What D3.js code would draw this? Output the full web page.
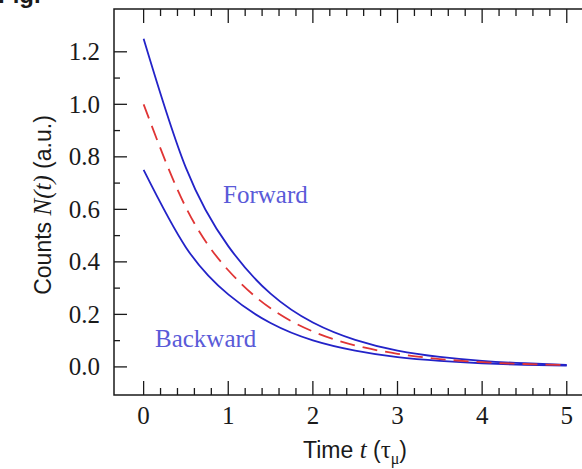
<!DOCTYPE html>
<html>
<head>
<meta charset="utf-8">
<script src="https://cdn.jsdelivr.net/npm/d3@7"></script>
<style>
  body { margin: 0; background: #fff; }
  svg { display: block; }
</style>
</head>
<body>
<svg id="chart" width="582" height="469"></svg>
<script>
// values
const times = [0, 0.5, 1, 1.5, 2, 2.5, 3, 3.5, 4, 4.5, 5];
const forward = [1.25, 0.758, 0.46, 0.279, 0.169, 0.103, 0.062, 0.038, 0.023, 0.014, 0.008];
const average = [1.0, 0.607, 0.368, 0.223, 0.135, 0.082, 0.05, 0.03, 0.018, 0.011, 0.007];
const backward = [0.75, 0.455, 0.276, 0.167, 0.101, 0.062, 0.037, 0.023, 0.014, 0.008, 0.005];
const xTicks = [0, 1, 2, 3, 4, 5];
const yTicks = [0, 0.2, 0.4, 0.6, 0.8, 1.0, 1.2];

const svg = d3.select("#chart");
const W = 582;
const frameLeft = 114, frameTop = 9, frameBottom = 395;

const x = d3.scaleLinear().domain([-0.35, 5.18]).range([frameLeft, W]);
const y = d3.scaleLinear().domain([-0.107, 1.363]).range([frameBottom, frameTop]);

const ink = "#1a1a1a";

// "Fig." cut off at the top edge, as in the source
svg.append("text")
    .attr("x", -2).attr("y", 3)
    .attr("font-family", "Liberation Sans, Arial, sans-serif")
    .attr("font-weight", "bold")
    .attr("font-size", 24)
    .attr("fill", ink)
    .text("Fig.");

// frame (right side runs off the picture)
svg.append("path")
    .attr("d", `M${W},${frameTop}H${frameLeft}V${frameBottom}H${W}`)
    .attr("fill", "none")
    .attr("stroke", ink)
    .attr("stroke-width", 1.5);

// minor + major ticks along x (bottom and top, pointing inward)
const xMinor = d3.range(0, 5.001, 0.2).map(v => +v.toFixed(1));
const tg = svg.append("g").attr("stroke", ink).attr("stroke-width", 1.3);
xMinor.forEach(v => {
    let major = Math.abs(v - Math.round(v)) < 1e-6;
    let len = major ? 14 : 7;
    tg.append("line").attr("x1", x(v)).attr("x2", x(v)).attr("y1", frameBottom).attr("y2", frameBottom - len);
    tg.append("line").attr("x1", x(v)).attr("x2", x(v)).attr("y1", frameTop).attr("y2", frameTop + len);
});
const yMinor = d3.range(0, 1.2001, 0.1).map(v => +v.toFixed(1));
yMinor.forEach(v => {
    let major = Math.abs(v * 5 - Math.round(v * 5)) < 1e-6;
    let len = major ? 13 : 6;
    tg.append("line").attr("x1", frameLeft).attr("x2", frameLeft + len).attr("y1", y(v)).attr("y2", y(v));
});

// tick labels
const serif = "Liberation Serif, Times New Roman, serif";
svg.append("g").selectAll("text")
    .data(xTicks)
    .join("text")
    .attr("x", d => x(d))
    .attr("y", 424)
    .attr("text-anchor", "middle")
    .attr("font-family", serif)
    .attr("font-size", 25)
    .attr("fill", ink)
    .text(d => d);

svg.append("g").selectAll("text")
    .data(yTicks)
    .join("text")
    .attr("x", 100)
    .attr("y", d => y(d))
    .attr("dy", "0.34em")
    .attr("text-anchor", "end")
    .attr("font-family", serif)
    .attr("font-size", 25)
    .attr("fill", ink)
    .text(d => d.toFixed(1));

// curves
const pts = vals => times.map((t, i) => [t, vals[i]]);
const line = d3.line()
    .x(d => x(d[0]))
    .y(d => y(d[1]))
    .curve(d3.curveNatural);

svg.append("path").datum(pts(forward))
    .attr("d", line).attr("fill", "none")
    .attr("stroke", "#2323c8").attr("stroke-width", 1.8);
svg.append("path").datum(pts(backward))
    .attr("d", line).attr("fill", "none")
    .attr("stroke", "#2323c8").attr("stroke-width", 1.8);
svg.append("path").datum(pts(average))
    .attr("d", line).attr("fill", "none")
    .attr("stroke", "#e03535").attr("stroke-width", 1.8)
    .attr("stroke-dasharray", "15,8");

// curve labels
svg.append("text")
    .attr("x", 223).attr("y", 203)
    .attr("font-family", serif).attr("font-size", 25)
    .attr("fill", "#5a5ad8")
    .text("Forward");
svg.append("text")
    .attr("x", 155).attr("y", 347)
    .attr("font-family", serif).attr("font-size", 25)
    .attr("fill", "#5a5ad8")
    .text("Backward");

// axis titles
const sans = "Liberation Sans, Arial, sans-serif";
const xt = svg.append("text")
    .attr("x", 355).attr("y", 458)
    .attr("text-anchor", "middle")
    .attr("font-family", sans).attr("font-size", 23)
    .attr("fill", ink);
xt.append("tspan").text("Time ");
xt.append("tspan").attr("font-family", serif).attr("font-style", "italic").attr("font-size", 25).text("t");
xt.append("tspan").text(" (");
xt.append("tspan").attr("font-family", serif).attr("font-size", 25).text("τ");
xt.append("tspan").attr("font-family", serif).attr("font-size", 16).attr("dy", 6).text("μ");
xt.append("tspan").attr("dy", -6).text(")");

const yt = svg.append("text")
    .attr("transform", "translate(51,205) rotate(-90)")
    .attr("text-anchor", "middle")
    .attr("font-family", sans).attr("font-size", 23)
    .attr("fill", ink);
yt.append("tspan").text("Counts ");
yt.append("tspan").attr("font-family", serif).attr("font-style", "italic").attr("font-size", 25).text("N(t)");
yt.append("tspan").text(" (a.u.)");
</script>
</body>
</html>
